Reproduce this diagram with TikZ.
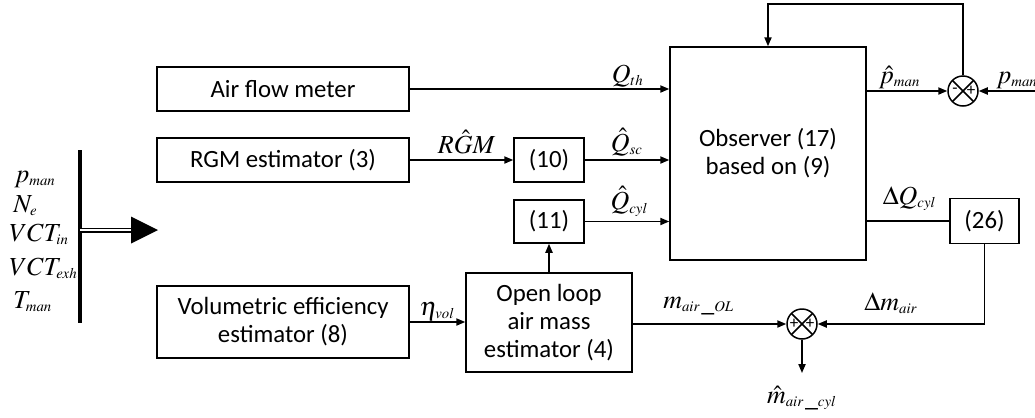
\documentclass[tikz,border=0pt]{standalone}
\usepackage{mathptmx}
\usepackage[no-math]{fontspec}
\setmainfont{Carlito}
\DeclareMathSizes{13}{13}{7.4}{6}
\usepackage{tikz}
\usetikzlibrary{arrows.meta, positioning, calc}
\tikzset{
  blk/.style={rectangle, draw=black, fill=white, line width=0.75pt,
    align=center, inner sep=2pt,
    font=\fontsize{12.4}{14}\selectfont},
  sumnode/.style={circle, draw=black, line width=0.75pt,
    minimum size=15pt, inner sep=0pt,
    path picture={
      \draw[line width=0.75pt] (path picture bounding box.north west)
        -- (path picture bounding box.south east);
      \draw[line width=0.75pt] (path picture bounding box.south west)
        -- (path picture bounding box.north east);}},
  sgn/.style={inner sep=0pt, font=\fontsize{8.5}{9}\selectfont},
  lbl/.style={anchor=base, inner sep=0pt,
    font=\fontsize{13}{15}\selectfont},
  arr/.style={-{Triangle[length=4.5pt,width=3.6pt]}, line width=0.75pt},
  ln/.style={line width=0.75pt},
}

\begin{document}
\begin{tikzpicture}[x=0.5pt, y=-0.5pt]
  \useasboundingbox (0,0) rectangle (1035,418);

  % -- Blocks --
  \node[blk, minimum width=126pt, minimum height=22pt] (afm) at (283,89)
       {Air flow meter};
  \node[blk, minimum width=126pt, minimum height=22pt] (rgm) at (283,160)
       {RGM estimator (3)};
  \node[blk, minimum width=126pt, minimum height=36pt] (vol) at (283,322)
       {Volumetric efficiency\\estimator (8)};
  \node[blk, minimum width=35pt, minimum height=22pt] (eq10) at (549,160)
       {(10)};
  \node[blk, minimum width=35pt, minimum height=21.5pt] (eq11) at (549,221.5)
       {(11)};
  \node[blk, minimum width=83pt, minimum height=49.5pt] (olm) at (549,322.5)
       {Open loop\\air mass\\estimator (4)};
  \node[blk, minimum width=98pt, minimum height=106.5pt] (obs) at (768,153.5)
       {Observer (17)\\based on (9)};
  \node[blk, minimum width=34.5pt, minimum height=22.5pt] (eq26) at (984.5,221)
       {(26)};

  % -- Summing junctions --
  \node[sumnode] (sumP) at (963,91) {};
  \node[sgn] (sumPa) at ($(sumP.center)+(-4pt,0)$) {-};
  \node[sgn] (sumPb) at ($(sumP.center)+(4pt,0)$) {+};
  \node[sumnode] (sumM) at (802,324) {};
  \node[sgn] (sumMa) at ($(sumM.center)+(-4pt,0)$) {+};
  \node[sgn] (sumMb) at ($(sumM.center)+(4pt,0)$) {+};

  % -- Input bus --
  \coordinate (busT) at (80,150);
  \coordinate (busB) at (80,323);
  \coordinate (busM) at (80,230);
  \coordinate (headB) at (131,230);
  \coordinate (headT) at (158,230);
  \draw[line width=2pt] (busT) -- (busB);
  \draw[double, double distance=1.3pt, line width=0.6pt] (busM) -- (headB);
  \fill ($(headB)+(0,-13.5)$) -- (headT) -- ($(headB)+(0,13.5)$) -- cycle;

  \node[lbl, anchor=base west] (inP) at (14,182) {$p_{man}$};
  \node[lbl, anchor=base west] (inN) at (13,212) {$N_{e}$};
  \node[lbl, anchor=base west] (inVi) at (9,241) {$VCT_{in}$};
  \node[lbl, anchor=base west] (inVe) at (9,275) {$VCT_{exh}$};
  \node[lbl, anchor=base west] (inT) at (13,308) {$T_{man}$};

  % -- Signals into the observer --
  \draw[arr] (afm.east) -- (afm.east -| obs.west)
       node[lbl, pos=0.84, yshift=3.5pt] (lQth) {$Q_{th}$};
  \draw[arr] (rgm.east) -- (eq10.west)
       node[lbl, pos=0.55, yshift=3.5pt] (lRGM) {$R\hat{G}M$};
  \draw[arr] (eq10.east) -- (eq10.east -| obs.west)
       node[lbl, pos=0.5, yshift=4.5pt] (lQsc) {$\hat{Q}_{sc}$};
  \draw[arr] (eq11.east) -- (eq11.east -| obs.west)
       node[lbl, pos=0.53, yshift=6pt] (lQcyl) {$\hat{Q}_{cyl}$};
  \draw[arr] (vol.east) -- (vol.east -| olm.west)
       node[lbl, pos=0.5, yshift=3.5pt] (leta) {$\eta_{vol}$};
  \draw[arr] (olm.north) -- (eq11.south);

  % -- Pressure error feedback --
  \coordinate (fbTop) at (963,4);
  \coordinate (pIn) at (1040,91);
  \draw[arr] (obs.east |- sumP.west) -- (sumP.west)
       node[lbl, pos=0.41, yshift=4pt] (lphat) {$\hat{p}_{man}$};
  \draw[arr] (pIn) -- (sumP.east);
  \node[lbl, anchor=base west] (lpman) at (996,83) {$p_{man}$};
  \draw[arr] (sumP.north) -- (fbTop) -| (obs.north);

  % -- Air mass correction --
  \coordinate (mOut) at (802,373);
  \draw[ln] (obs.east |- eq26.west) -- (eq26.west)
       node[lbl, pos=0.52, yshift=8.5pt] (ldQ) {$\Delta Q_{cyl}$};
  \draw[arr] (eq26.south) |- (sumM.east)
       node[lbl, pos=0.78, yshift=7pt] (ldm) {$\Delta m_{air}$};
  \draw[arr] (olm.east |- sumM.west) -- (sumM.west)
       node[lbl, pos=0.43, yshift=8pt] (lmOL) {$m_{air\,\_OL}$};
  \draw[arr] (sumM.south) -- (mOut)
       node[lbl, yshift=-15pt] (lmcyl) {$\hat{m}_{air\,\_cyl}$};
\end{tikzpicture}
\end{document}
